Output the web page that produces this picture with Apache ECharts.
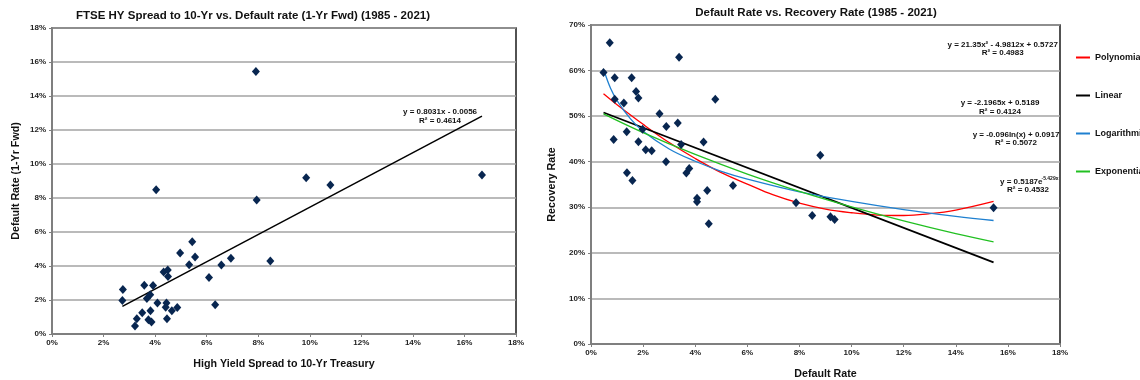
<!DOCTYPE html>
<html><head><meta charset="utf-8">
<script src="https://cdn.jsdelivr.net/npm/echarts@6/dist/echarts.min.js"></script>
<style>html,body{margin:0;padding:0;background:#fff}#c{width:1140px;height:380px}</style>
</head><body><div id="c"></div>
<script>
// ---- Left chart: HY spread vs default rate (1-yr fwd), percent ----
const hySpread = [7.91, 4.04, 7.94, 9.86, 10.80, 16.68, 8.47, 5.44, 4.97, 5.55, 6.94, 6.57, 5.32, 4.33, 4.49, 4.50, 6.09, 6.33, 2.75, 2.73, 3.58, 3.92, 3.81, 3.68, 4.09, 4.44, 4.41, 4.86, 4.65, 3.82, 3.50, 3.29, 3.74, 3.86, 4.46, 3.22];
const defaultFwd = [15.44, 8.48, 7.88, 9.19, 8.77, 9.36, 4.30, 5.43, 4.77, 4.53, 4.46, 4.06, 4.08, 3.65, 3.77, 3.38, 3.32, 1.72, 2.62, 1.97, 2.87, 2.85, 2.31, 2.09, 1.82, 1.82, 1.58, 1.56, 1.37, 1.37, 1.25, 0.90, 0.84, 0.70, 0.90, 0.47];
const leftTrendX = [2.73, 16.68];
const leftTrendY = [1.62, 12.82];

// ---- Right chart: default rate vs recovery rate, percent ----
const defaultRate = [0.72, 0.48, 0.91, 1.56, 1.73, 1.82, 0.91, 1.26, 4.77, 3.38, 2.63, 3.33, 2.89, 1.98, 0.87, 1.37, 1.82, 2.10, 2.33, 3.46, 4.32, 2.88, 1.38, 1.59, 3.66, 3.77, 4.46, 4.07, 4.07, 4.52, 5.45, 7.87, 8.80, 8.49, 9.19, 9.35, 15.45];
const recoveryRate = [66.1, 59.6, 58.4, 58.4, 55.4, 54.0, 53.7, 52.9, 53.7, 62.9, 50.5, 48.5, 47.7, 47.1, 44.9, 46.6, 44.4, 42.6, 42.4, 43.8, 44.3, 40.0, 37.6, 35.9, 37.5, 38.5, 33.7, 32.0, 31.2, 26.4, 34.8, 31.0, 41.4, 28.2, 27.9, 27.3, 29.9];

const polyX = [0.48, 1, 2, 3, 4, 5, 6, 7, 8, 9, 10, 11, 12, 13, 14, 15.45];
const polyY = [54.9, 52.5, 48.2, 44.2, 40.7, 37.6, 35.1, 32.7, 30.9, 29.6, 28.8, 28.3, 28.2, 28.6, 29.4, 31.3];
const linX = [0.48, 15.45];
const linY = [50.8, 17.9];
const logX = [0.5, 0.75, 1, 1.5, 2, 3, 4, 5, 6, 8, 10, 12, 14, 15.45];
const logY = [60.0, 56.1, 53.4, 49.5, 46.7, 42.8, 40.1, 37.9, 36.2, 33.4, 31.3, 29.5, 28.0, 27.1];
const expX = [0.48, 2, 4, 6, 8, 10, 12, 14, 15.45];
const expY = [50.5, 46.4, 41.6, 37.3, 33.5, 30.1, 27.0, 24.2, 22.4];

const trendNames = ['Polynomial', 'Linear', 'Logarithmic', 'Exponential'];
const trendColors = ['#ff0000', '#000000', '#1f80d0', '#22c022'];

const zip = (a, b) => a.map((v, i) => [v, b[i]]);
const FONT = 'Liberation Sans, Arial, sans-serif';
const markerColor = '#082650';

function valAxis(grid, max, interval, isY) {
  return {
    type: 'value', gridIndex: grid, min: 0, max: max, interval: interval,
    axisLine: { show: true, onZero: false, lineStyle: { color: '#7f7f7f', width: 2 } },
    axisTick: { show: true, length: 3, lineStyle: { color: '#7f7f7f' } },
    axisLabel: { formatter: '{value}%', fontFamily: FONT, fontWeight: 'bold', fontSize: 8, color: '#222', margin: isY ? 6 : 5 },
    splitLine: { show: isY, lineStyle: { color: '#a3a3a3', width: 1.5 } },
    nameLocation: 'middle',
    nameTextStyle: { fontFamily: FONT, fontWeight: 'bold', fontSize: 10.7, color: '#111' }
  };
}

const xL = valAxis(0, 18, 2, false); xL.name = 'High Yield Spread to 10-Yr Treasury'; xL.nameGap = 25;
const yL = valAxis(0, 18, 2, true); yL.name = 'Default Rate (1-Yr Fwd)'; yL.nameGap = 30;
const xR = valAxis(1, 18, 2, false); xR.name = 'Default Rate'; xR.nameGap = 25;
const yR = valAxis(1, 70, 10, true); yR.name = 'Recovery Rate'; yR.nameGap = 33;

const eqStyle = { fontFamily: FONT, fontWeight: 'bold', fontSize: 8, fill: '#111', textAlign: 'center', textVerticalAlign: 'middle' };
function eq(x, y, text, extra) {
  return { type: 'text', x: x, y: y, style: Object.assign({ text: text }, eqStyle, extra || {}), z: 50 };
}

const option = {
  animation: false,
  backgroundColor: '#fff',
  title: [
    { text: 'FTSE HY Spread to 10-Yr vs. Default rate (1-Yr Fwd) (1985 - 2021)', left: 248, top: 5, textAlign: 'center',
      textStyle: { fontFamily: FONT, fontWeight: 'bold', fontSize: 11.5, color: '#111' } },
    { text: 'Default Rate vs. Recovery Rate (1985 - 2021)', left: 811, top: 2, textAlign: 'center',
      textStyle: { fontFamily: FONT, fontWeight: 'bold', fontSize: 11.5, color: '#111' } }
  ],
  grid: [
    { left: 52, top: 28, width: 464, height: 306, show: true, borderColor: '#1a1a1a', borderWidth: 1.5,
      containLabel: false, outerBoundsMode: 'none' },
    { left: 591, top: 25, width: 469, height: 319, show: true, borderColor: '#1a1a1a', borderWidth: 1.5,
      containLabel: false, outerBoundsMode: 'none' }
  ],
  xAxis: [xL, xR],
  yAxis: [yL, yR],
  legend: {
    orient: 'vertical', left: 1071, top: 48, itemGap: 29, itemWidth: 14, itemHeight: 2,
    icon: 'rect', selectedMode: false,
    textStyle: { fontFamily: FONT, fontWeight: 'bold', fontSize: 9, color: '#111' },
    data: trendNames
  },
  graphic: [
    eq(440, 112, 'y = 0.8031x - 0.0056'),
    eq(440, 120.5, 'R² = 0.4614'),
    eq(1002.7, 44.5, 'y = 21.35x² - 4.9812x + 0.5727'),
    eq(1002.7, 53, 'R² = 0.4983'),
    eq(1000, 103, 'y = -2.1965x + 0.5189'),
    eq(1000, 111.5, 'R² = 0.4124'),
    eq(1016, 135, 'y = -0.096ln(x) + 0.0917'),
    eq(1016, 143, 'R² = 0.5072'),
    eq(1000, 181.5, 'y = 0.5187e', { textAlign: 'left' }),
    eq(1041.5, 178.5, '-5.429x', { textAlign: 'left', fontSize: 5 }),
    eq(1028, 189.5, 'R² = 0.4532')
  ],
  series: [
    { type: 'line', name: 'LeftTrend', xAxisIndex: 0, yAxisIndex: 0, data: zip(leftTrendX, leftTrendY),
      showSymbol: false, lineStyle: { color: '#000', width: 1.5 }, z: 3, silent: true },
    { type: 'scatter', name: 'Left', xAxisIndex: 0, yAxisIndex: 0, data: zip(hySpread, defaultFwd),
      symbol: 'diamond', symbolSize: [8, 9], itemStyle: { color: markerColor, opacity: 1 }, z: 5 },
    { type: 'line', name: trendNames[0], xAxisIndex: 1, yAxisIndex: 1, data: zip(polyX, polyY), smooth: 0.4,
      showSymbol: false, lineStyle: { color: trendColors[0], width: 1.3 }, itemStyle: { color: trendColors[0] }, z: 3 },
    { type: 'line', name: trendNames[1], xAxisIndex: 1, yAxisIndex: 1, data: zip(linX, linY),
      showSymbol: false, lineStyle: { color: trendColors[1], width: 1.8 }, itemStyle: { color: trendColors[1] }, z: 3 },
    { type: 'line', name: trendNames[2], xAxisIndex: 1, yAxisIndex: 1, data: zip(logX, logY), smooth: 0.4,
      showSymbol: false, lineStyle: { color: trendColors[2], width: 1.3 }, itemStyle: { color: trendColors[2] }, z: 3 },
    { type: 'line', name: trendNames[3], xAxisIndex: 1, yAxisIndex: 1, data: zip(expX, expY), smooth: 0.4,
      showSymbol: false, lineStyle: { color: trendColors[3], width: 1.3 }, itemStyle: { color: trendColors[3] }, z: 3 },
    { type: 'scatter', name: 'Right', xAxisIndex: 1, yAxisIndex: 1, data: zip(defaultRate, recoveryRate),
      symbol: 'diamond', symbolSize: [8, 9], itemStyle: { color: markerColor, opacity: 1 }, z: 5 }
  ]
};

const chart = echarts.init(document.getElementById('c'), null, { renderer: 'canvas' });
chart.setOption(option);
</script>
</body></html>
